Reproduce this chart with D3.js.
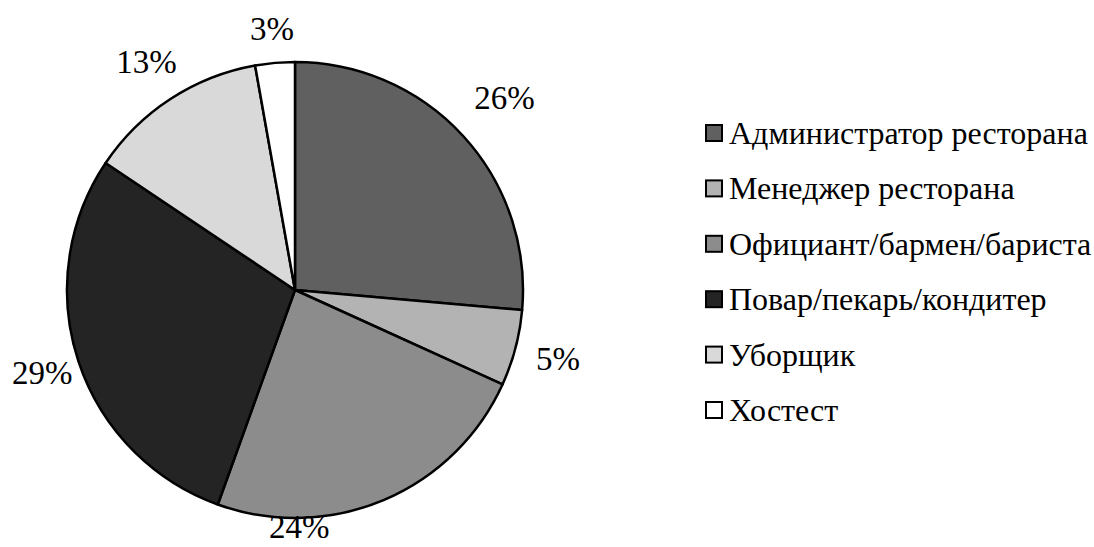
<!DOCTYPE html>
<html><head><meta charset="utf-8">
<script src="https://cdn.jsdelivr.net/npm/d3@7"></script>
<style>html,body{margin:0;padding:0;background:#fff;}svg{display:block;}</style>
</head><body>
<svg id="chart" width="1094" height="547"></svg>
<script>
const categories = ["Администратор ресторана","Менеджер ресторана","Официант/бармен/бариста","Повар/пекарь/кондитер","Уборщик","Хостест"];
const values = [26.4, 5.4, 23.7, 28.9, 12.8, 2.8];
const colors = ["#606060","#b3b3b3","#8c8c8c","#242424","#d9d9d9","#ffffff"];

const svg = d3.select("#chart");
const cx = 295, cy = 290, R = 228;
const FONT = '"Liberation Serif"';

const pie = d3.pie().sort(null).value(d => d)(values);
const arc = d3.arc().innerRadius(0).outerRadius(R);
const g = svg.append("g").attr("transform", `translate(${cx},${cy})`);

g.selectAll("path").data(pie).join("path")
  .attr("d", arc)
  .attr("fill", (d,i) => colors[i])
  .attr("stroke", "#000").attr("stroke-width", 2.5).attr("stroke-linejoin","round");

const fmt = v => Math.round(v) + "%";
const labelR = 272;
const angleOverride = {2: 179 * Math.PI/180};
const radiusOverride = {0: 284, 2: 237, 3: 266, 5: 262};
g.selectAll("text.lbl").data(pie).join("text").attr("class","lbl")
  .attr("x", (d,i) => { const a = angleOverride[i] ?? (d.startAngle+d.endAngle)/2; const r = radiusOverride[i] ?? labelR; return Math.sin(a)*r; })
  .attr("y", (d,i) => { const a = angleOverride[i] ?? (d.startAngle+d.endAngle)/2; const r = radiusOverride[i] ?? labelR; return -Math.cos(a)*r; })
  .attr("text-anchor","middle").attr("dominant-baseline","central")
  .style("font-family", FONT).attr("font-size", 33).attr("fill","#000")
  .text((d,i) => fmt(values[i]));

const legendY = d3.scalePoint().domain(categories).range([133, 410]);
const lg = svg.append("g");
const rows = lg.selectAll("g").data(categories).join("g")
  .attr("transform", d => `translate(706,${legendY(d)})`);
rows.append("rect").attr("x",0).attr("y",-8).attr("width",16).attr("height",16)
  .attr("fill",(d,i)=>colors[i]).attr("stroke","#000").attr("stroke-width",2);
rows.append("text").attr("x",23).attr("y",0).attr("dominant-baseline","central")
  .style("font-family", FONT).attr("font-size", 32).attr("fill","#000").text(d => d);
</script>
</body></html>
